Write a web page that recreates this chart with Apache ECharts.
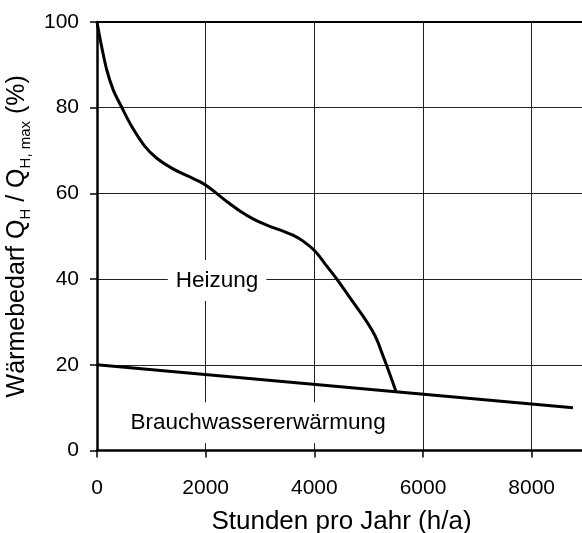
<!DOCTYPE html>
<html>
<head>
<meta charset="utf-8">
<script src="https://cdn.jsdelivr.net/npm/echarts@6/dist/echarts.min.js"></script>
<style>
  html, body { margin: 0; padding: 0; background: #fff; }
  #chart { width: 582px; height: 533px; }
</style>
</head>
<body>
<div id="chart"></div>
<script>
// Heating load duration curve (hours per year vs. share of peak load)
const heizungHours = [0, 40, 86, 180, 300, 455, 640, 885, 1100, 1375, 1745, 1900, 2050, 2200, 2400, 2630, 2880, 3125, 3400, 3615, 3800, 4015, 4200, 4414, 4720, 4900, 5060, 5160, 5240, 5370, 5500];
const heizungValues = [100, 97.2, 94.2, 88.8, 84.1, 80.1, 75.6, 70.9, 68.2, 65.9, 63.6, 62.7, 61.5, 60.0, 58.0, 55.9, 54.0, 52.6, 51.3, 50.2, 48.8, 46.5, 43.5, 40.0, 34.5, 31.3, 28.1, 25.6, 22.9, 18.5, 13.9];

// Domestic hot water base load
const wasserHours = [0, 8760];
const wasserValues = [20, 10];

// In-plot labels: [hours, percent, text]
const labelHours = [2210, 2965];
const labelValues = [39.7, 6.5];
const labelTexts = ['Heizung', 'Brauchwassererwärmung'];

const xTicks = [0, 2000, 4000, 6000, 8000];
const yTicks = [0, 20, 40, 60, 80, 100];

const FONT = '"Liberation Sans", Arial, sans-serif';

const chart = echarts.init(document.getElementById('chart'), null, { renderer: 'canvas' });

chart.setOption({
  animation: false,
  backgroundColor: '#fff',
  textStyle: { fontFamily: FONT, color: '#000' },
  // plot area runs slightly past the right edge of the canvas
  grid: { left: 97, top: 22, width: 489, height: 428.5, containLabel: false, outerBoundsMode: 'none' },
  xAxis: [{
    type: 'value',
    min: 0, max: 9000, interval: 2000,
    name: 'Stunden pro Jahr (h/a)',
    nameLocation: 'middle',
    nameGap: 58,
    nameTextStyle: { fontFamily: FONT, fontSize: 26, color: '#000' },
    axisLine: { show: true, onZero: false, lineStyle: { color: '#000', width: 2.5 } },
    axisTick: { show: true, length: 7, lineStyle: { color: '#000', width: 1.5 } },
    axisLabel: {
      fontFamily: FONT, fontSize: 21, color: '#000', margin: 27,
      formatter: v => (xTicks.indexOf(v) >= 0 ? String(v) : '')
    },
    splitLine: { show: true, lineStyle: { color: '#222', width: 1 } }
  }, {
    type: 'value',
    position: 'top',
    min: 0, max: 9000,
    axisLine: { show: true, onZero: false, lineStyle: { color: '#000', width: 2 } },
    axisTick: { show: false },
    axisLabel: { show: false },
    splitLine: { show: false }
  }],
  yAxis: {
    type: 'value',
    min: 0, max: 100, interval: 20,
    name: '{b|Wärmebedarf Q}{s|H}{b| / Q}{s|H, max}{b| (%)}',
    nameLocation: 'middle',
    nameGap: 55,
    nameTextStyle: {
      fontFamily: FONT, fontSize: 25, color: '#000',
      rich: {
        b: { fontFamily: FONT, fontSize: 25, color: '#000', lineHeight: 30, verticalAlign: 'bottom' },
        s: { fontFamily: FONT, fontSize: 15, color: '#000', lineHeight: 30, verticalAlign: 'bottom', padding: [0, 0, -3, 0] }
      }
    },
    axisLine: { show: true, onZero: false, lineStyle: { color: '#000', width: 2.5 } },
    axisTick: { show: true, length: 7, lineStyle: { color: '#000', width: 1.5 } },
    axisLabel: {
      fontFamily: FONT, fontSize: 21, color: '#000', margin: 18,
      formatter: v => (yTicks.indexOf(v) >= 0 ? String(v) : '')
    },
    splitLine: { show: true, lineStyle: { color: '#222', width: 1 } }
  },
  series: [
    {
      name: 'Heizung',
      type: 'line',
      data: heizungHours.map((h, i) => [h, heizungValues[i]]),
      smooth: 0.35,
      symbol: 'none',
      lineStyle: { color: '#000', width: 3 },
      z: 5
    },
    {
      name: 'Brauchwasser',
      type: 'line',
      data: wasserHours.map((h, i) => [h, wasserValues[i]]),
      symbol: 'none',
      lineStyle: { color: '#000', width: 3 },
      z: 5
    },
    {
      name: 'Beschriftung',
      type: 'scatter',
      symbolSize: 0,
      itemStyle: { opacity: 1 },
      data: labelHours.map((h, i) => ({ value: [h, labelValues[i]], text: labelTexts[i] })),
      label: {
        show: true,
        position: 'inside',
        formatter: p => p.data.text,
        fontFamily: FONT,
        fontSize: 22.5,
        color: '#000',
        opacity: 1,
        backgroundColor: '#fff',
        padding: [9, 8, 9, 8]
      },
      z: 4
    }
  ]
});
</script>
</body>
</html>
